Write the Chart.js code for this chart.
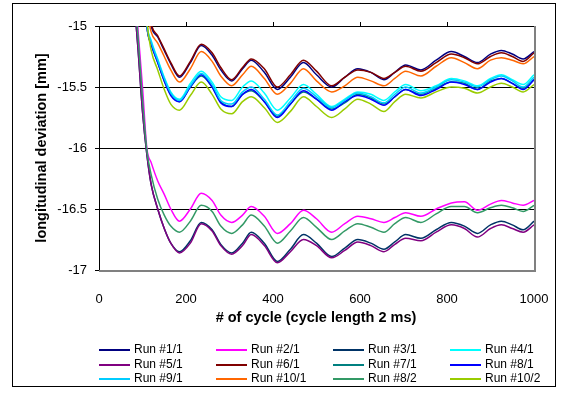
<!DOCTYPE html>
<html>
<head>
<meta charset="utf-8">
<script src="https://cdn.jsdelivr.net/npm/chart.js@4/dist/chart.umd.min.js"></script>
<style>
  body { margin: 0; background: #fff; }
  #wrap { width: 567px; height: 394px; }
</style>
</head>
<body>
<div id="wrap"><canvas id="devChart" width="567" height="394"></canvas></div>
<script>
const cycles = [80, 90, 100, 110, 120, 135, 150, 165, 185, 210, 235, 260, 280, 305, 330, 350, 380, 410, 440, 470, 500, 535, 565, 595, 625, 655, 680, 705, 740, 775, 810, 840, 870, 900, 925, 950, 975, 1000];

const run1_1 = [-13.6, -14.0, -14.4, -14.75, -15.0, -15.09, -15.2, -15.31, -15.42, -15.3, -15.16, -15.24, -15.36, -15.45, -15.35, -15.28, -15.38, -15.52, -15.42, -15.30, -15.40, -15.50, -15.42, -15.35, -15.38, -15.44, -15.38, -15.32, -15.36, -15.28, -15.21, -15.25, -15.30, -15.23, -15.20, -15.23, -15.27, -15.21];
const run2_1 = [-14.6, -15.05, -15.5, -16.0, -16.12, -16.27, -16.38, -16.5, -16.60, -16.5, -16.37, -16.43, -16.55, -16.61, -16.55, -16.48, -16.56, -16.70, -16.62, -16.51, -16.58, -16.69, -16.62, -16.56, -16.58, -16.61, -16.57, -16.53, -16.56, -16.50, -16.45, -16.44, -16.51, -16.46, -16.43, -16.45, -16.47, -16.43];
const run3_1 = [-14.75, -15.2, -15.7, -16.05, -16.3, -16.5, -16.66, -16.78, -16.85, -16.76, -16.61, -16.67, -16.79, -16.86, -16.78, -16.69, -16.78, -16.93, -16.83, -16.71, -16.78, -16.89, -16.82, -16.75, -16.78, -16.83, -16.77, -16.71, -16.74, -16.67, -16.61, -16.64, -16.70, -16.63, -16.60, -16.63, -16.67, -16.60];
const run4_1 = [-13.45, -13.85, -14.35, -14.97, -15.12, -15.27, -15.42, -15.54, -15.6, -15.47, -15.37, -15.46, -15.58, -15.61, -15.5, -15.45, -15.55, -15.69, -15.59, -15.48, -15.56, -15.66, -15.6, -15.54, -15.56, -15.61, -15.54, -15.48, -15.53, -15.49, -15.43, -15.45, -15.49, -15.43, -15.40, -15.44, -15.48, -15.40];
const run5_1 = [-14.75, -15.2, -15.7, -16.05, -16.3, -16.5, -16.66, -16.78, -16.86, -16.78, -16.62, -16.68, -16.80, -16.87, -16.80, -16.71, -16.80, -16.94, -16.85, -16.75, -16.80, -16.90, -16.84, -16.77, -16.80, -16.85, -16.79, -16.74, -16.76, -16.69, -16.63, -16.66, -16.73, -16.66, -16.63, -16.66, -16.69, -16.63];
const run6_1 = [-13.55, -13.95, -14.35, -14.7, -14.98, -15.08, -15.19, -15.3, -15.41, -15.29, -15.15, -15.22, -15.34, -15.44, -15.34, -15.27, -15.35, -15.5, -15.40, -15.28, -15.37, -15.49, -15.42, -15.36, -15.38, -15.43, -15.38, -15.33, -15.37, -15.30, -15.23, -15.26, -15.31, -15.25, -15.22, -15.25, -15.29, -15.22];
const run7_1 = [-13.5, -13.9, -14.4, -15.0, -15.15, -15.3, -15.45, -15.56, -15.62, -15.5, -15.41, -15.5, -15.62, -15.66, -15.56, -15.53, -15.62, -15.74, -15.64, -15.54, -15.6, -15.68, -15.63, -15.56, -15.59, -15.64, -15.58, -15.52, -15.56, -15.51, -15.46, -15.47, -15.52, -15.45, -15.43, -15.47, -15.51, -15.44];
const run8_1 = [-13.5, -13.9, -14.4, -15.0, -15.15, -15.3, -15.45, -15.57, -15.62, -15.5, -15.40, -15.5, -15.63, -15.66, -15.56, -15.52, -15.62, -15.75, -15.64, -15.53, -15.6, -15.69, -15.62, -15.57, -15.6, -15.65, -15.58, -15.52, -15.57, -15.52, -15.46, -15.48, -15.52, -15.46, -15.43, -15.47, -15.52, -15.44];
const run9_1 = [-13.48, -13.88, -14.38, -14.98, -15.13, -15.28, -15.43, -15.55, -15.61, -15.49, -15.39, -15.48, -15.61, -15.64, -15.54, -15.5, -15.6, -15.73, -15.62, -15.51, -15.58, -15.67, -15.61, -15.55, -15.58, -15.63, -15.56, -15.5, -15.55, -15.5, -15.44, -15.46, -15.5, -15.44, -15.41, -15.45, -15.5, -15.42];
const run10_1 = [-13.7, -14.1, -14.5, -14.85, -15.05, -15.14, -15.25, -15.36, -15.46, -15.35, -15.21, -15.29, -15.41, -15.49, -15.40, -15.33, -15.43, -15.56, -15.47, -15.35, -15.45, -15.54, -15.49, -15.42, -15.45, -15.49, -15.43, -15.37, -15.41, -15.33, -15.26, -15.30, -15.35, -15.28, -15.26, -15.28, -15.31, -15.25];
const run8_2 = [-14.65, -15.1, -15.6, -16.02, -16.22, -16.42, -16.55, -16.64, -16.69, -16.6, -16.47, -16.52, -16.64, -16.70, -16.63, -16.55, -16.64, -16.78, -16.68, -16.57, -16.65, -16.75, -16.68, -16.62, -16.65, -16.69, -16.62, -16.57, -16.61, -16.54, -16.48, -16.48, -16.53, -16.49, -16.47, -16.49, -16.52, -16.47];
const run10_2 = [-13.4, -13.8, -14.3, -14.95, -15.2, -15.36, -15.52, -15.64, -15.69, -15.57, -15.46, -15.56, -15.68, -15.72, -15.62, -15.58, -15.67, -15.79, -15.70, -15.58, -15.66, -15.75, -15.68, -15.6, -15.64, -15.70, -15.62, -15.56, -15.59, -15.54, -15.50, -15.51, -15.55, -15.50, -15.47, -15.50, -15.54, -15.48];

const runNames = ["Run #1/1", "Run #2/1", "Run #3/1", "Run #4/1", "Run #5/1", "Run #6/1", "Run #7/1", "Run #8/1", "Run #9/1", "Run #10/1", "Run #8/2", "Run #10/2"];
const runValues = [run1_1, run2_1, run3_1, run4_1, run5_1, run6_1, run7_1, run8_1, run9_1, run10_1, run8_2, run10_2];
const runColors = ["#000080", "#FF00FF", "#003366", "#00FFFF", "#800080", "#800000", "#008080", "#0000FF", "#00CCFF", "#FF6600", "#339966", "#99CC00"];

const yTicks = [-15, -15.5, -16, -16.5, -17];
const xTicks = [0, 200, 400, 600, 800, 1000];

const FONT = "'Liberation Sans', Arial, sans-serif";

const datasets = runValues.map((vals, i) => ({
  label: runNames[i],
  data: vals.map((v, k) => ({ x: cycles[k], y: v })),
  borderColor: runColors[i],
  borderWidth: 1.5,
  pointRadius: 0,
  cubicInterpolationMode: "monotone",
  order: runValues.length - i
}));

// excel-like frame, titles and legend grid
const decor = {
  id: "decor",
  beforeDraw(chart) {
    const c = chart.ctx;
    c.save();
    c.fillStyle = "#fff";
    c.fillRect(0, 0, chart.width, chart.height);
    c.strokeStyle = "#000";
    c.lineWidth = 1;
    c.strokeRect(12.5, 3.5, 543, 383);
    c.restore();
  },
  afterDraw(chart) {
    const c = chart.ctx;
    const a = chart.chartArea;
    const xs = chart.scales.x;
    c.save();
    // plot border right / bottom
    c.strokeStyle = "#808080";
    c.lineWidth = 2;
    c.beginPath();
    c.moveTo(a.left, a.bottom + 1);
    c.lineTo(a.right + 1, a.bottom + 1);
    c.lineTo(a.right + 1, a.top);
    c.stroke();
    // x axis ticks on the top line
    c.strokeStyle = "#000";
    c.lineWidth = 1;
    xTicks.slice(1, -1).forEach(t => {
      const px = Math.round(xs.getPixelForValue(t)) + 0.5;
      c.beginPath();
      c.moveTo(px, a.top);
      c.lineTo(px, a.top - 4);
      c.stroke();
    });
    // axis titles
    c.fillStyle = "#000";
    c.font = "bold 14.5px " + FONT;
    c.textAlign = "center";
    c.textBaseline = "middle";
    c.fillText("# of cycle (cycle length 2 ms)", 316, 318);
    c.translate(42, (a.top + a.bottom) / 2);
    c.rotate(-Math.PI / 2);
    c.fillText("longitudinal deviation [mm]", 0, 0);
    c.restore();
    // legend, 4 columns x 3 rows
    c.save();
    const colX = [99, 216, 333, 450];
    const rowY = [350, 365, 379];
    c.font = "12px " + FONT;
    c.textAlign = "left";
    c.textBaseline = "middle";
    chart.data.datasets.forEach((ds, i) => {
      const x = colX[i % 4];
      const y = rowY[Math.floor(i / 4)];
      c.strokeStyle = ds.borderColor;
      c.lineWidth = 2;
      c.beginPath();
      c.moveTo(x, y);
      c.lineTo(x + 31, y);
      c.stroke();
      c.fillStyle = "#000";
      c.fillText(ds.label, x + 35, y);
    });
    c.restore();
  }
};

new Chart(document.getElementById("devChart").getContext("2d"), {
  type: "line",
  data: { datasets: datasets },
  plugins: [decor],
  options: {
    responsive: false,
    animation: false,
    layout: { padding: { top: 26, right: 33, left: 0, bottom: 0 } },
    plugins: {
      legend: { display: false },
      tooltip: { enabled: false }
    },
    scales: {
      x: {
        type: "linear",
        min: 0,
        max: 1000,
        afterFit: s => { s.height = 124; },
        afterBuildTicks: s => { s.ticks = xTicks.map(v => ({ value: v })); },
        grid: { display: false },
        border: { display: false },
        ticks: {
          color: "#000", padding: 14, maxRotation: 0,
          font: { family: FONT, size: 13 },
          callback: v => String(v)
        }
      },
      y: {
        type: "linear",
        min: -17,
        max: -15,
        afterFit: s => { s.width = 99; },
        afterBuildTicks: s => { s.ticks = yTicks.map(v => ({ value: v })); },
        grid: {
          color: ctx => (ctx.tick && ctx.tick.value === -17) ? "rgba(0,0,0,0)" : "#000",
          tickColor: "#000",
          tickLength: 4,
          lineWidth: 1
        },
        border: { display: true, color: "#000", width: 1 },
        ticks: {
          color: "#000", padding: 8,
          font: { family: FONT, size: 13 },
          callback: v => String(v)
        }
      }
    }
  }
});
</script>
</body>
</html>
